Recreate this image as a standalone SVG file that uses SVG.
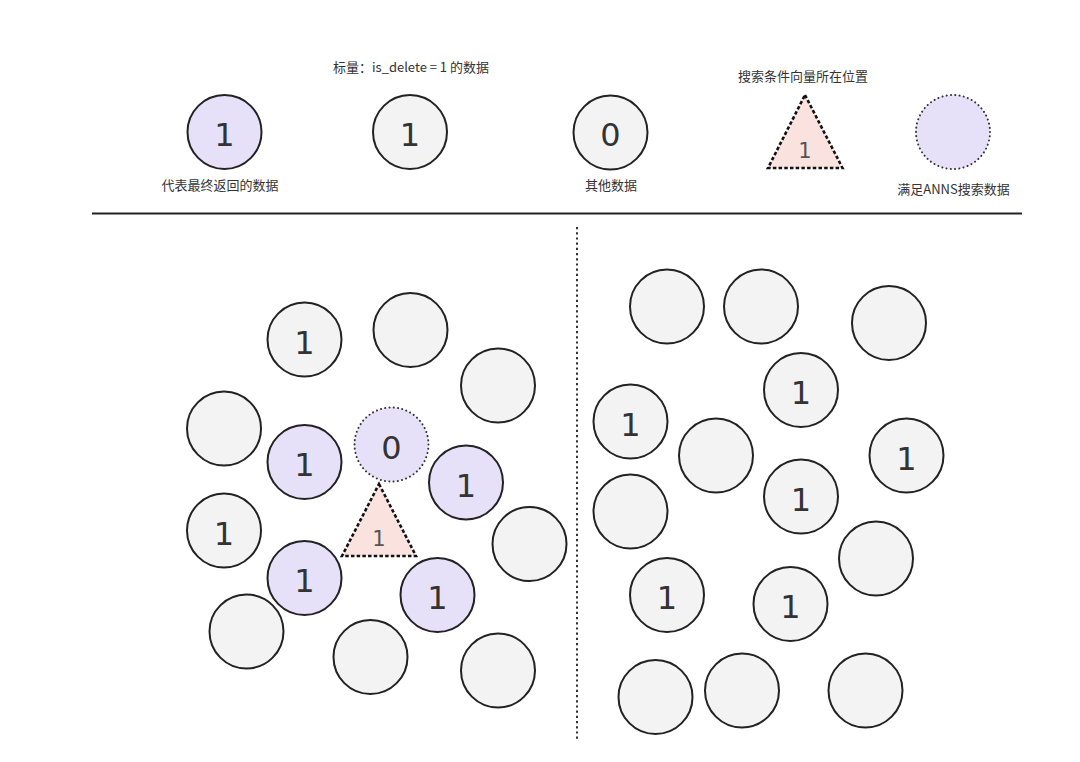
<svg xmlns="http://www.w3.org/2000/svg" width="1080" height="762" viewBox="0 0 1080 762">
<defs>
<style>
.c{stroke:#222;stroke-width:2;}
.p{fill:#e6e1f9;}
.g{fill:#f3f3f3;}
.d{fill:#e6e1f9;stroke:#333;stroke-width:2;stroke-dasharray:0.1 4.2;stroke-linecap:round;}
.t{fill:#faE3df;stroke:#111;stroke-width:2.6;stroke-dasharray:3.5 2.2;}
.n{font-family:"DejaVu Sans",sans-serif;font-size:32px;fill:#333;text-anchor:middle;}
.s{font-family:"DejaVu Sans",sans-serif;font-size:21px;fill:#555;text-anchor:middle;}
.l{font-family:"Noto Sans CJK SC","Noto Sans",sans-serif;font-size:13px;fill:#333;text-anchor:middle;}
</style>
</defs>
<rect width="1080" height="762" fill="#ffffff"/>
<g id="dividers">
<line x1="92" y1="213.5" x2="1022" y2="213.5" stroke="#222" stroke-width="2"/>
<line x1="577" y1="227" x2="577" y2="740" stroke="#333" stroke-width="2" stroke-dasharray="2.2 3"/>
</g>
<g id="legend">
<g id="leg-returned"><circle class="c p" cx="224.5" cy="132" r="37"/><text class="n" x="224.5" y="146">1</text><text class="l" x="220" y="190">代表最终返回的数据</text></g>
<g id="leg-deleted"><text class="l" x="411" y="72">标量：is_delete = 1 的数据</text><circle class="c g" cx="410" cy="132" r="37"/><text class="n" x="410" y="146">1</text></g>
<g id="leg-other"><circle class="c g" cx="610.5" cy="132.5" r="37"/><text class="n" x="610.5" y="146">0</text><text class="l" x="611" y="190">其他数据</text></g>
<g id="leg-query"><text class="l" x="803" y="81">搜索条件向量所在位置</text><polygon class="t" points="805,95 842.5,168 768,168"/><text class="s" x="805" y="158">1</text></g>
<g id="leg-anns"><circle class="d" cx="953" cy="132" r="37"/><text class="l" x="953.5" y="194">满足ANNS搜索数据</text></g>
</g>
<g id="left-panel">
<g id="L1"><circle class="c g" cx="304.5" cy="339.5" r="37"/><text class="n" x="304.5" y="353.5">1</text></g>
<g id="L2"><circle class="c g" cx="410.5" cy="330" r="37"/></g>
<g id="L3"><circle class="c g" cx="498" cy="385.5" r="37"/></g>
<g id="L4"><circle class="c g" cx="224" cy="428.5" r="37"/></g>
<g id="L5"><circle class="c p" cx="304.5" cy="462" r="37"/><text class="n" x="304.5" y="476">1</text></g>
<g id="L6"><circle class="d" cx="391.5" cy="444.5" r="37"/><text class="n" x="391.5" y="458.5">0</text></g>
<g id="L7"><circle class="c p" cx="466" cy="482.5" r="37"/><text class="n" x="466" y="496.5">1</text></g>
<g id="L8"><circle class="c g" cx="224" cy="530.5" r="37"/><text class="n" x="224" y="544.5">1</text></g>
<g id="L9"><circle class="c g" cx="529.5" cy="544" r="37"/></g>
<g id="L10"><circle class="c p" cx="304.5" cy="578" r="37"/><text class="n" x="304.5" y="592">1</text></g>
<g id="L11"><circle class="c p" cx="437.5" cy="595" r="37"/><text class="n" x="437.5" y="609">1</text></g>
<g id="L12"><circle class="c g" cx="246.5" cy="631.5" r="37"/></g>
<g id="L13"><circle class="c g" cx="370.5" cy="657" r="37"/></g>
<g id="L14"><circle class="c g" cx="498" cy="670.5" r="37"/></g>
<g id="L-query"><polygon class="t" points="379,484 416,556 342,556"/><text class="s" x="379" y="546">1</text></g>
</g>
<g id="right-panel">
<g id="R1"><circle class="c g" cx="667" cy="306.5" r="37"/></g>
<g id="R2"><circle class="c g" cx="761" cy="306.5" r="37"/></g>
<g id="R3"><circle class="c g" cx="889" cy="323" r="37"/></g>
<g id="R4"><circle class="c g" cx="801" cy="390" r="37"/><text class="n" x="801" y="404">1</text></g>
<g id="R5"><circle class="c g" cx="630.5" cy="421.5" r="37"/><text class="n" x="630.5" y="435.5">1</text></g>
<g id="R6"><circle class="c g" cx="716" cy="455.5" r="37"/></g>
<g id="R7"><circle class="c g" cx="906.5" cy="455.5" r="37"/><text class="n" x="906.5" y="469.5">1</text></g>
<g id="R8"><circle class="c g" cx="801" cy="496.5" r="37"/><text class="n" x="801" y="510.5">1</text></g>
<g id="R9"><circle class="c g" cx="630.5" cy="511.5" r="37"/></g>
<g id="R10"><circle class="c g" cx="876" cy="558.5" r="37"/></g>
<g id="R11"><circle class="c g" cx="667" cy="595" r="37"/><text class="n" x="667" y="609">1</text></g>
<g id="R12"><circle class="c g" cx="790.5" cy="604" r="37"/><text class="n" x="790.5" y="618">1</text></g>
<g id="R13"><circle class="c g" cx="655.5" cy="697" r="37"/></g>
<g id="R14"><circle class="c g" cx="742" cy="690.5" r="37"/></g>
<g id="R15"><circle class="c g" cx="865.5" cy="690.5" r="37"/></g>
</g>
</svg>
